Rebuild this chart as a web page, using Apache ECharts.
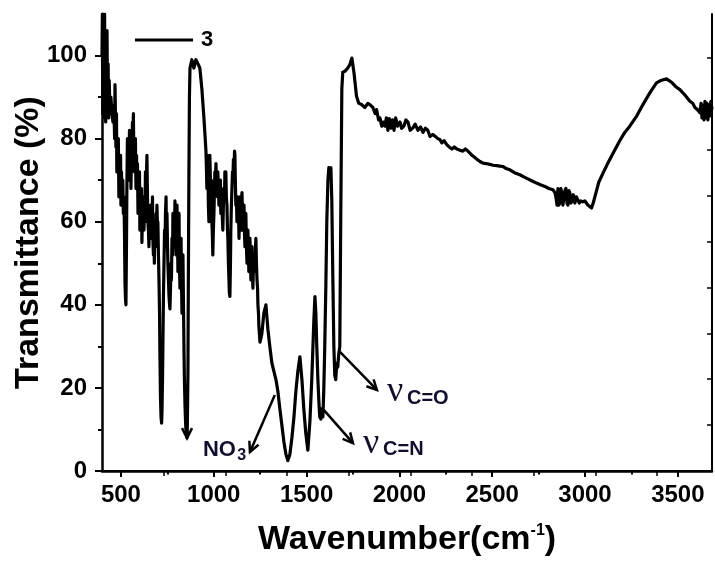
<!DOCTYPE html>
<html>
<head>
<meta charset="utf-8">
<script src="https://cdn.jsdelivr.net/npm/echarts@6/dist/echarts.min.js"></script>
<style>html,body{margin:0;padding:0;background:#fff}#c{width:715px;height:561px}</style>
</head>
<body>
<div id="c"></div>
<script>
// ---- spectrum, in segments ----
const wnA = [398,400,402,404,406,408,410,412,414,416,418,420,422,425,428,431,434,437,441,446,452,457,462,466,468,471,473,476,478,481,484,486,489,492,495,498,500,503,505,510,513,516,519,522,525,527,530,532,535,538,540,543,546,548,551,554,557,559,562,565,567,570,573,575,578,581,584,586,589,592,595,597,600,602,605,608,611,613,616,619,621,624,627,629,632,635,637,640,643,645,648,651,653,656,659,662,664,667,670,672,675,678,680,683,686,689,691,694,697,699,702,705,708,710,713,716,719,721,724,726,729,732,735,737,740,743,745,748,751,753,756,759,762,764,767,770,772,775,778,780,783,786,788,791,794,797,799,802,805,807,810,813,815,818,821,824,826,829,832,834,837,840,842,845,848,850,853,856,858,861,863,866,869,872];
const tA = [100,110,86,110,88,106,85,110,87,104,84,100,88,106,86,98,85,94,86,90,86,84,88,80,93,84,78,86,72,80,74,80,66,74,68,76,64,72,66,70,62,66,58,45,41,40,55,68,80,72,78,70,82,74,80,68,78,72,84,80,86,74,80,72,80,68,76,70,74,62,70,64,72,58,66,60,68,55,62,58,66,58,64,60,72,64,70,76,66,60,58,54,62,58,64,56,62,58,66,56,52,58,50,60,54,62,56,64,58,60,52,46,38,28,18,13,11.5,14,22,30,42,50,58,54,62,66,58,62,54,50,46,42,40,39,44,50,46,56,52,62,56,60,54,65,58,52,60,64,56,48,58,62,50,44,52,56,46,38,44,52,40,28,22,16,12,10,9,8,12,24,45,70,90,97];
const wnB = [882,893,904,915,925,936,947,954];
const tB = [99,97,99,98,97,92,85,80];
const wnC = [958,961,963,966,969,971,974,977,979,982,985,987,990,993,995,998,1001,1004,1006,1009,1012,1014,1017,1020,1022,1025,1028,1030,1033,1036,1038,1041,1044,1047,1049,1052,1055,1058,1060,1063,1065,1068,1071,1074,1076,1079,1082,1084,1087,1090,1092,1095,1098,1101,1103,1106,1109,1112,1114,1117,1119,1122,1125,1128,1130,1133,1136,1139,1141,1144,1146,1149,1152,1155,1157,1160,1163,1165,1168,1171,1173,1176,1179,1181,1184,1187,1189,1192,1195,1198,1200,1203,1206,1208,1211,1214,1216,1219,1222,1225,1227,1230,1233,1236,1238,1241,1243,1246,1249];
const tC = [77,72,68,76,72,64,60,70,76,70,66,70,60,56,52,58,62,68,72,70,74,68,70,66,72,68,64,70,66,70,62,68,64,60,58,64,68,66,72,68,72,66,64,58,56,50,46,43,42,50,58,64,68,72,70,75,72,77,76,68,64,66,60,66,62,64,56,62,66,60,58,64,67,62,58,62,64,58,54,60,62,54,50,56,58,52,48,54,56,50,46,52,54,48,44,50,52,48,50,54,56,50,46,44,40,38,35,33,31];
const wnD = [1259,1270,1281,1292,1302,1313,1324,1335,1346,1356,1367,1378,1389,1399,1410,1421,1432,1442,1453,1464,1475,1485,1496,1507,1518,1528,1539,1545,1550,1555,1561,1566,1571,1577,1582,1588,1593,1598,1604,1609,1615,1620,1625,1631,1636,1641,1647,1652,1657,1663,1668,1673,1679,1684,1690,1695];
const tD = [33,38,40,34,30,26,24,22,19,15,11,7,4,2.5,4,8,13,19,24,27.5,22,15,9,5,12,22,36,42,38,30,22,17,13,12.5,15,13,20,30,45,60,70,73,72,73,65,48,30,23,22,26,25,28,30,60,92,96];
const wnE = [1706,1722,1733,1744,1755,1769,1781,1796,1814,1830,1841,1857,1870,1877,1888,1895,1905,1912,1922,1930,1938,1946,1955,1963,1971,1980,1990,2003,2012,2024,2035,2046,2058,2073,2085,2100,2114,2127,2140,2153,2165,2180,2194,2207,2218,2229,2241,2254,2268,2283,2296,2310,2326,2342,2355,2369,2380,2391,2405,2418,2434,2450,2468,2487,2505,2525,2540,2557,2575,2595,2620,2649,2670,2692,2715,2739,2760,2784,2805,2827,2838,2843,2849,2854,2859,2864,2870,2875,2881,2886,2892,2897,2903,2908,2913,2918,2924,2929,2937,2945,2953,2961,2969,2977,2988,2999,3007,3015,3025,3035,3044,3053,3074,3097,3122,3151,3187,3214,3241,3279,3312,3349,3385,3409,3439,3468,3489,3511,3538,3565,3580,3592,3605,3619,3625,3630,3636,3641,3646,3651,3657,3662,3668,3673,3678,3684];
const tE = [96.2,97,97.8,99.4,96,90.2,88.5,88.2,87.5,88.5,88.2,87.5,86,87,84.5,85,83,84,83,85,82,84.8,82.5,84.5,82,85,83,84,82.5,83,84.5,84,82,82.6,83.5,82,82.8,81.5,82.5,82,80.5,81,80.5,80,79.8,79,79.5,78.6,78,77.5,78,77.5,77.2,77,77.5,77,76.5,76,75.5,75,74.5,74.1,74,73.8,73.6,73.5,73.4,73.3,72.8,72.5,71.8,71.3,70.8,70.3,69.8,69.3,68.9,68.5,68,67.7,67,66,64,68,64,64.5,68,67,64,64,67.5,68,64.5,64,67.5,67,64.5,65,66.5,64.5,66,66,64.5,65,64.8,65,64.5,64,64,63.3,64.5,66,69.5,71.7,74,76.5,79.5,81.5,83,85.5,88.2,91,93.4,94,94.4,93.5,92.5,91.8,90.5,89,88.5,87.5,87,86.2,88.5,85,88,84.5,89,85,88.5,84.5,88,85.5,89,87];
const wavenumber = wnA.concat(wnB, wnC, wnD, wnE);
const transmittance = tA.concat(tB, tC, tD, tE);

const seriesName = '3';
const xRange = [398, 3684];
const xTickValues = [500, 1000, 1500, 2000, 2500, 3000, 3500];
const xMinorTicks = [750, 1250, 1750, 2250, 2750, 3250];
const yRange = [0, 110];
const yTickValues = [0, 20, 40, 60, 80, 100];
const yMinorTicks = [10, 30, 50, 70, 90];
const xTitle = 'Wavenumber(cm';
const yTitle = 'Transmittance (%)';
// annotation anchors (data coordinates)
const arrows = [
  [[1329, 18.3], [1195, 4.6]],
  [[856, 14], [856, 7.9]],
  [[1680, 28.7], [1879, 19.5]],
  [[1583, 15.2], [1750, 6.7]]
];
// nu: bottom-left of the ν box; sub: left-middle of the subscript text
const labels = [
  {nu: null, mainPos: [942, 5.0], main: 'NO', subPos: [1126, 3.6], sub: '3', mainSize: 22, subSize: 16},
  {nu: [1933, 14.7], subPos: [2041, 17.5], sub: 'C=O', subSize: 20},
  {nu: [1804, 2.2], subPos: [1912, 5.1], sub: 'C=N', subSize: 20}
];

const FONT = "'Liberation Sans', Arial, sans-serif";
const chart = echarts.init(document.getElementById('c'), null, {renderer: 'canvas'});
const points = wavenumber.map((w, i) => [w, transmittance[i]]);
const plain = v => String(v);

chart.setOption({
  animation: false,
  backgroundColor: '#fff',
  grid: {left: 102, right: 3, top: 14, bottom: 90, containLabel: false, outerBoundsMode: 'none'},
  legend: {
    left: 135, top: 29, padding: 0, icon: 'rect', itemWidth: 58, itemHeight: 3,
    textStyle: {fontFamily: FONT, fontSize: 22, fontWeight: 'bold', color: '#000', padding: [0, 0, 0, 3]},
    data: [seriesName]
  },
  xAxis: [
    {
      type: 'value', min: xRange[0], max: xRange[1], position: 'bottom',
      axisLine: {lineStyle: {color: '#000', width: 2.5}},
      axisTick: {show: true, inside: false, length: 6, lineStyle: {color: '#000', width: 2}, customValues: xTickValues},
      axisLabel: {customValues: xTickValues, formatter: plain, margin: 12, color: '#000', fontFamily: FONT, fontWeight: 'bold', fontSize: 24},
      splitLine: {show: false},
      name: '{a|' + xTitle + '}{b|-1}{a|)}', nameLocation: 'middle', nameGap: 52, nameMoveOverlap: false,
      nameTextStyle: {rich: {
        a: {fontFamily: FONT, fontWeight: 'bold', fontSize: 34, color: '#000'},
        b: {fontFamily: FONT, fontWeight: 'bold', fontSize: 16, color: '#000', verticalAlign: 'top'}
      }}
    },
    {
      type: 'value', min: xRange[0], max: xRange[1], position: 'bottom',
      axisLine: {show: false},
      axisTick: {show: true, inside: false, length: 3.5, lineStyle: {color: '#000', width: 2}, customValues: xMinorTicks},
      axisLabel: {show: false}, splitLine: {show: false}
    },
    {
      type: 'value', min: 0, max: 9.89, position: 'top',
      axisLine: {lineStyle: {color: '#000', width: 2}},
      axisTick: {show: true, inside: true, length: 5, lineStyle: {color: '#000', width: 1.5}, customValues: [1,2,3,4,5,6,7,8,9]},
      axisLabel: {show: false}, splitLine: {show: false}
    }
  ],
  yAxis: [
    {
      type: 'value', min: yRange[0], max: yRange[1], position: 'left',
      axisLine: {show: true, lineStyle: {color: '#000', width: 2.5}},
      axisTick: {show: true, inside: false, length: 7, lineStyle: {color: '#000', width: 2}, customValues: yTickValues},
      axisLabel: {customValues: yTickValues, formatter: plain, margin: 15, color: '#000', fontFamily: FONT, fontWeight: 'bold', fontSize: 24},
      splitLine: {show: false},
      name: yTitle, nameLocation: 'middle', nameGap: 56, nameRotate: 90, nameMoveOverlap: false,
      nameTextStyle: {fontFamily: FONT, fontWeight: 'bold', fontSize: 34, color: '#000'}
    },
    {
      type: 'value', min: yRange[0], max: yRange[1], position: 'left',
      axisLine: {show: false},
      axisTick: {show: true, inside: false, length: 4, lineStyle: {color: '#000', width: 2}, customValues: yMinorTicks},
      axisLabel: {show: false}, splitLine: {show: false}
    },
    {
      type: 'value', min: 0, max: 9.96, position: 'right',
      axisLine: {show: true, lineStyle: {color: '#000', width: 2}},
      axisTick: {show: true, inside: true, length: 5, lineStyle: {color: '#000', width: 1.5}, customValues: [1,2,3,4,5,6,7,8,9]},
      axisLabel: {show: false}, splitLine: {show: false}
    }
  ],
  series: [{
    name: seriesName, type: 'line', xAxisIndex: 0, yAxisIndex: 0,
    data: points, showSymbol: false, symbol: 'none', clip: true,
    itemStyle: {color: '#000'},
    lineStyle: {color: '#000', width: 3.2, join: 'round'}
  }]
});

function px(p) { return chart.convertToPixel({seriesIndex: 0}, p); }
function arrowEls(a, b) {
  const p1 = px(a), p2 = px(b);
  const dx = p2[0] - p1[0], dy = p2[1] - p1[1], L = Math.hypot(dx, dy);
  const ux = dx / L, uy = dy / L, h = 10, w = 5;
  const bx = p2[0] - ux * h, by = p2[1] - uy * h;
  const l = [bx - uy * w, by + ux * w], r = [bx + uy * w, by - ux * w];
  return [
    {type: 'polyline', shape: {points: [p1, p2]}, style: {stroke: '#000', lineWidth: 2.5, fill: null}, z: 100},
    {type: 'polyline', shape: {points: [l, p2, r]}, style: {stroke: '#000', lineWidth: 2.5, fill: null}, z: 100}
  ];
}
const gfx = [];
arrows.forEach(a => gfx.push(...arrowEls(a[0], a[1])));
const ANN = '#10102e';
labels.forEach(lb => {
  if (lb.nu) {
    const p = px(lb.nu);
    gfx.push({type: 'text', x: p[0], y: p[1], z: 100,
      style: {text: 'ν', fontFamily: "'Liberation Serif', 'Times New Roman', serif", fontSize: 36, fill: ANN, align: 'left', verticalAlign: 'bottom'}});
  } else {
    const p = px(lb.mainPos);
    gfx.push({type: 'text', x: p[0], y: p[1], z: 100,
      style: {text: lb.main, fontFamily: FONT, fontWeight: 'bold', fontSize: lb.mainSize, fill: ANN, align: 'left', verticalAlign: 'middle'}});
  }
  const q = px(lb.subPos);
  gfx.push({type: 'text', x: q[0], y: q[1], z: 100,
    style: {text: lb.sub, fontFamily: FONT, fontWeight: 'bold', fontSize: lb.subSize, fill: ANN, align: 'left', verticalAlign: 'middle'}});
});
chart.setOption({graphic: gfx});
</script>
</body>
</html>
